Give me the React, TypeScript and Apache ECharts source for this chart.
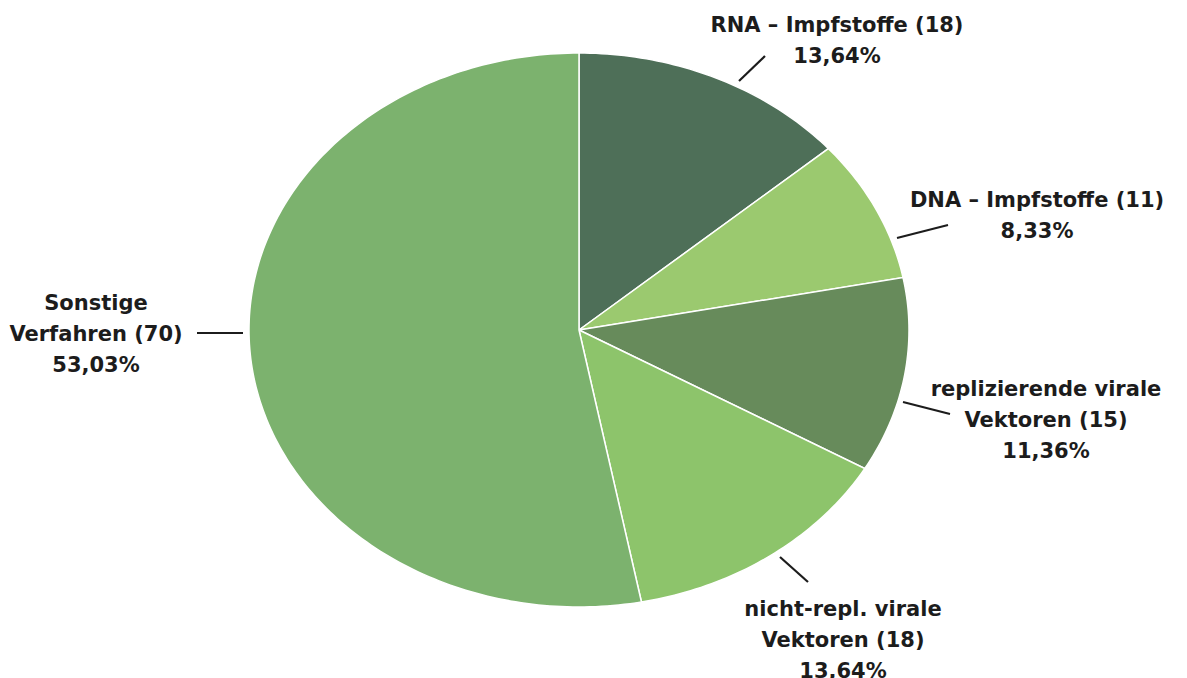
import React, { useEffect, useRef } from "react";
import * as echarts from "echarts";

const categories = [
  "RNA – Impfstoffe",
  "DNA – Impfstoffe",
  "replizierende virale\nVektoren",
  "nicht-repl. virale\nVektoren",
  "Sonstige\nVerfahren",
];
const counts = [18, 11, 15, 18, 70];

const colors = ["#4e6f58", "#9bc96f", "#678b5b", "#8dc46b", "#7cb26e"];

// layout for the annotation labels (text anchor + leader line)
const labelLayout = [
  { x: 837, y: 9, line: [739, 81, 765, 56] },
  { x: 1037, y: 184, line: [897, 238, 948, 225] },
  { x: 1046, y: 373, line: [903, 402, 950, 414] },
  { x: 843, y: 593, line: [780, 557, 808, 582] },
  { x: 96, y: 287, line: [197, 333, 243, 333] },
];

const CX = 579;
const CY = 330;
const RX = 330;
const RY = 277;

export default function App() {
  const ref = useRef<HTMLDivElement>(null);
  useEffect(() => {
    if (!ref.current) return;
    const chart = echarts.init(ref.current, null, { renderer: "svg" });
    const total = counts.reduce((a, b) => a + b, 0);
    const starts: number[] = [];
    let acc = 0;
    counts.forEach((c) => {
      starts.push(acc);
      acc += c;
    });
    const pct = (v: number) => ((v / total) * 100).toFixed(2).replace(".", ",") + "%";

    const graphics: any[] = [];
    categories.forEach((name, i) => {
      const L = labelLayout[i];
      graphics.push({
        type: "text",
        x: L.x,
        y: L.y,
        style: {
          text: `${name} (${counts[i]})\n${pct(counts[i])}`,
          textAlign: "center",
          textVerticalAlign: "top",
          font: 'bold 21px "DejaVu Sans", sans-serif',
          lineHeight: 31,
          fill: "#1c1c1c",
        },
      });
      graphics.push({
        type: "line",
        shape: { x1: L.line[0], y1: L.line[1], x2: L.line[2], y2: L.line[3] },
        style: { stroke: "#1c1c1c", lineWidth: 2.2 },
      });
    });

    chart.setOption({
      animation: false,
      backgroundColor: "#ffffff",
      series: [
        {
          type: "custom",
          coordinateSystem: "none",
          data: counts.map((c, i) => [c, i]),
          renderItem: (params: any, api: any) => {
            const i = params.dataIndex;
            const v = api.value(0);
            const a0 = (starts[i] / total) * Math.PI * 2;
            const a1 = ((starts[i] + v) / total) * Math.PI * 2;
            const steps = Math.max(2, Math.ceil(((a1 - a0) * 180) / Math.PI));
            const pts: number[][] = [[CX, CY]];
            for (let k = 0; k <= steps; k++) {
              const a = a0 + ((a1 - a0) * k) / steps;
              pts.push([CX + RX * Math.sin(a), CY - RY * Math.cos(a)]);
            }
            return {
              type: "polygon",
              shape: { points: pts },
              style: { fill: colors[i], stroke: "#ffffff", lineWidth: 1.5 },
            };
          },
        },
      ],
      graphic: graphics,
    });
    return () => chart.dispose();
  }, []);
  return (
    <div
      ref={ref}
      style={{ position: "fixed", left: 0, top: 0, width: 1187, height: 678 }}
    />
  );
}
